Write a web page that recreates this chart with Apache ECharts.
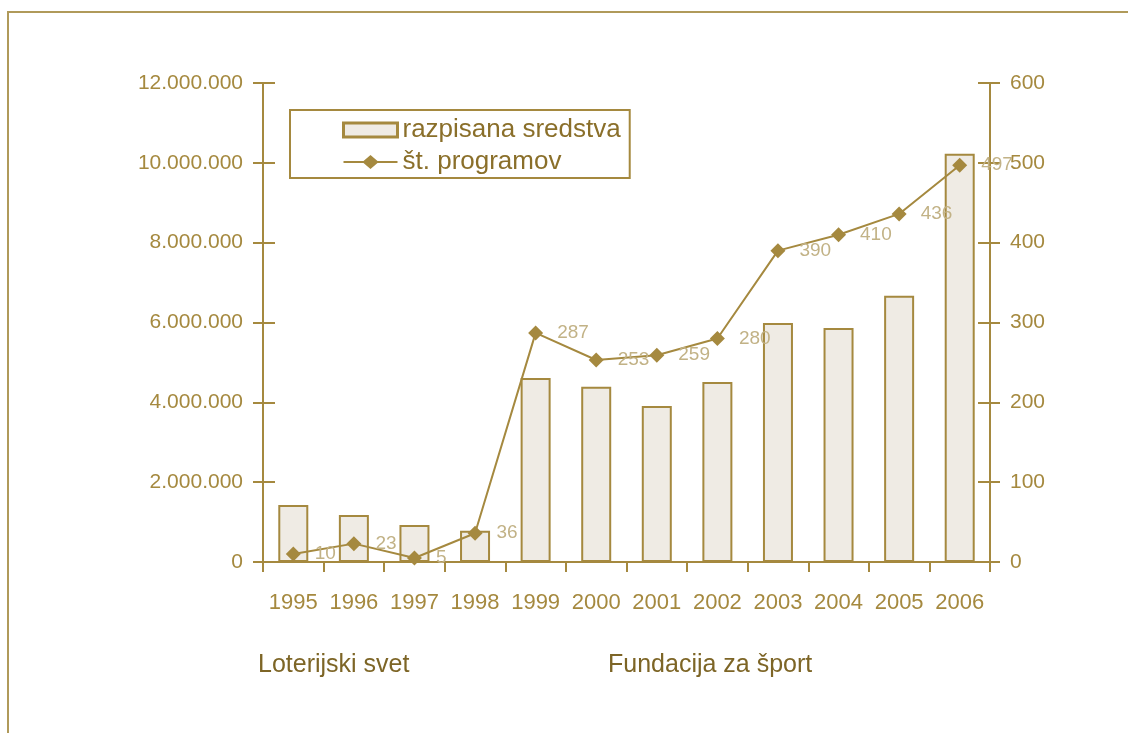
<!DOCTYPE html>
<html>
<head>
<meta charset="utf-8">
<script src="https://cdn.jsdelivr.net/npm/echarts@6/dist/echarts.min.js"></script>
<style>
  html,body{margin:0;padding:0;background:#fff;}
  #frame{position:absolute;left:7px;top:11px;width:1121px;height:722px;border-top:2px solid #b09a5a;border-left:2px solid #b09a5a;box-sizing:border-box;}
  #chart{position:absolute;left:0;top:0;width:1128px;height:733px;}
</style>
</head>
<body>
<div id="frame"></div>
<div id="chart"></div>
<script>
const years = ['1995','1996','1997','1998','1999','2000','2001','2002','2003','2004','2005','2006'];
const funds = [1430000,1180000,930000,780000,4610000,4390000,3910000,4510000,5990000,5860000,6670000,10230000];
const programs = [10,23,5,36,287,253,259,280,390,410,436,497];
const leftTicks = [0,2000000,4000000,6000000,8000000,10000000,12000000];
const bottomNotes = ['Loterijski svet','Fundacija za šport'];

const gold = '#a5893f';
const chart = echarts.init(document.getElementById('chart'));
const font = '"Liberation Sans", Arial, sans-serif';

function fmtThousands(v){
  return String(v).replace(/\B(?=(\d{3})+(?!\d))/g, '.');
}

// legend icon: line with a diamond in the middle
const lineDiamond = 'path://M0,6 L20,6 L27,0 L34,6 L54,6 L54,8 L34,8 L27,14 L20,8 L0,8 Z';

const option = {
  animation:false,
  textStyle:{fontFamily:font},
  grid:{left:263,right:138,top:83,bottom:171},
  legend:{
    left:290, top:110, orient:'vertical',
    borderColor:gold, borderWidth:2, padding:[7,9,3,52],
    itemWidth:54, itemHeight:14, itemGap:6,
    textStyle:{color:'#8a6f2a',fontSize:26,lineHeight:26,fontFamily:font},
    data:[
      {name:'razpisana sredstva',icon:'rect',itemStyle:{borderWidth:3}},
      {name:'št. programov',icon:lineDiamond,itemStyle:{color:gold,borderWidth:0}}
    ]
  },
  xAxis:{
    type:'category', data:years,
    axisLine:{lineStyle:{color:gold,width:2}},
    axisTick:{show:true,interval:0,length:10,lineStyle:{color:gold,width:2},alignWithLabel:false},
    axisLabel:{color:gold,fontSize:22,margin:30,interval:0,fontFamily:font}
  },
  yAxis:[
    {type:'value',min:0,max:12000000,interval:2000000,position:'left',
     axisLine:{show:true,lineStyle:{color:gold,width:2}},
     axisTick:{show:true,length:10,lineStyle:{color:gold,width:2}},
     axisLabel:{color:gold,fontSize:21,margin:20,fontFamily:font,
       formatter:v=>leftTicks.indexOf(v)>=0?fmtThousands(v):''},
     splitLine:{show:false}},
    {type:'value',min:0,max:600,interval:100,position:'right',
     axisLine:{show:true,lineStyle:{color:gold,width:2}},
     axisTick:{show:true,length:10,lineStyle:{color:gold,width:2}},
     axisLabel:{color:gold,fontSize:21,margin:20,fontFamily:font},
     splitLine:{show:false}},
    {type:'value',min:0,max:12000000,interval:2000000,position:'left',
     axisLine:{show:false},
     axisTick:{show:true,inside:true,length:12,lineStyle:{color:gold,width:2}},
     axisLabel:{show:false},splitLine:{show:false}},
    {type:'value',min:0,max:600,interval:100,position:'right',
     axisLine:{show:false},
     axisTick:{show:true,inside:true,length:12,lineStyle:{color:gold,width:2}},
     axisLabel:{show:false},splitLine:{show:false}}
  ],
  series:[
    {name:'razpisana sredstva',type:'bar',data:funds,yAxisIndex:0,barWidth:30,
     itemStyle:{color:'#efebe4',borderColor:gold,borderWidth:2}},
    {name:'št. programov',type:'line',data:programs,yAxisIndex:1,
     symbol:'diamond',symbolSize:15,
     lineStyle:{color:gold,width:2},itemStyle:{color:gold},
     label:{show:true,position:'right',distance:14,color:'#c2b286',fontSize:19,fontFamily:font}}
  ],
  graphic:[
    {type:'text',left:258,top:653,style:{text:bottomNotes[0],fill:'#7d6526',fontSize:25,fontFamily:font}},
    {type:'text',left:608,top:653,style:{text:bottomNotes[1],fill:'#7d6526',fontSize:25,fontFamily:font}}
  ]
};
chart.setOption(option);
</script>
</body>
</html>
